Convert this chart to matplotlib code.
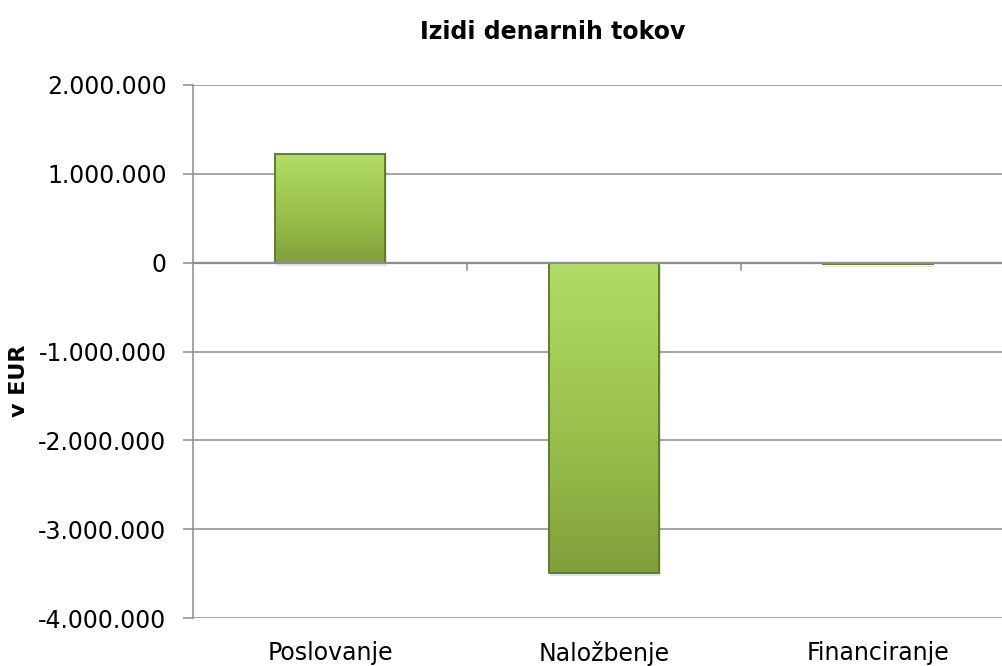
import matplotlib
matplotlib.use("Agg")
import matplotlib.pyplot as plt
import matplotlib.transforms as mtransforms
import numpy as np
from matplotlib.patches import Rectangle
from matplotlib.ticker import FuncFormatter

categories = ["Poslovanje", "Naložbenje", "Financiranje"]
values = [1220000, -3490000, -15000]
yticks = [-4000000, -3000000, -2000000, -1000000, 0, 1000000, 2000000]

W, H = 1002, 666
fig = plt.figure(figsize=(W / 100, H / 100), dpi=100)
ax = fig.add_axes([193 / W, 1 - 618 / H, (1015 - 193) / W, (618 - 85) / H])

bw = 0.405
cmap = matplotlib.colors.LinearSegmentedColormap.from_list(
    "g", ["#b3dc68", "#a3cc55", "#93b948", "#809f3a"])
grad = np.linspace(0, 1, 256).reshape(-1, 1)
for i, v in enumerate(values):
    x0 = i - bw / 2
    lo, hi = min(0, v), max(0, v)
    ax.add_patch(Rectangle((x0 + 0.006, lo - 35000), bw, hi - lo, facecolor="#000000",
                           alpha=0.10, edgecolor="none", zorder=2))
    im = ax.imshow(grad, extent=(x0, x0 + bw, lo, hi), aspect="auto", cmap=cmap,
                   zorder=3, interpolation="bilinear")
    rect = Rectangle((x0, lo), bw, hi - lo, facecolor="none", edgecolor="#5f7d2a",
                     linewidth=1.4, zorder=4)
    ax.add_patch(rect)
    im.set_clip_path(rect)

ax.set_xlim(-0.5, 2.5)
ax.set_ylim(-4000000, 2000000)

ax.set_yticks(yticks)
ax.yaxis.set_major_formatter(FuncFormatter(lambda v, p: f"{int(v):,}".replace(",", ".")))
ax.grid(axis="y", color="#8c8c8c", linewidth=1.1, zorder=1)
ax.set_axisbelow(True)
ax.tick_params(axis="y", length=7, width=1.1, color="#8c8c8c", labelsize=17, pad=12)

ax.set_xticks([])
for s in ["top", "right", "bottom"]:
    ax.spines[s].set_visible(False)
ax.spines["left"].set_color("#8c8c8c")
ax.spines["left"].set_linewidth(1.1)
ax.axhline(0, color="#8c8c8c", linewidth=1.6, zorder=5)
for xb in [0.5, 1.5]:
    ax.plot([xb, xb], [0, -80000], color="#8c8c8c", linewidth=1.1, zorder=5)

lbl_tr = mtransforms.offset_copy(ax.transData, fig=fig, y=-23, units="dots")
for i, c in enumerate(categories):
    ax.text(i, -4000000, c, ha="center", va="top", fontsize=17, transform=lbl_tr)

fig.text(553 / W, 1 - 32 / H, "Izidi denarnih tokov", ha="center", va="center",
         fontsize=17, fontweight="bold")
fig.text(19 / W, 1 - 381 / H, "v EUR", ha="center", va="center", rotation=90,
         fontsize=16, fontweight="bold")

fig.savefig("out.png", dpi=100)
